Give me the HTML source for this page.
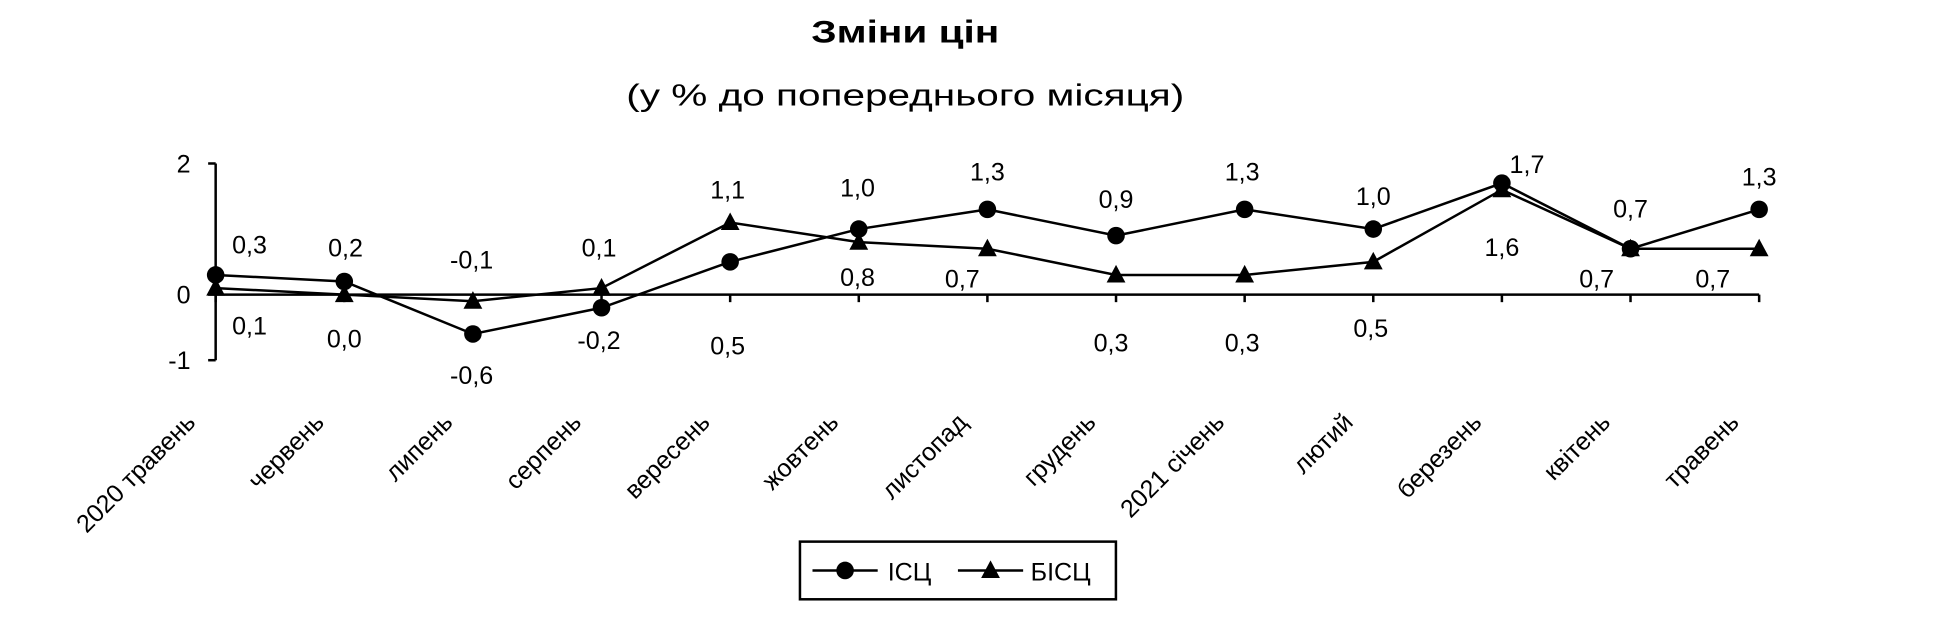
<!DOCTYPE html>
<html><head><meta charset="utf-8"><style>
html,body{margin:0;padding:0;background:#fff;}
svg{display:block;font-family:"Liberation Sans",Arial,sans-serif;}
</style></head><body>
<svg id="chart" width="1956" height="626" viewBox="0 0 1560 499.3" preserveAspectRatio="none" xmlns="http://www.w3.org/2000/svg">
<text x="722" y="34" text-anchor="middle" font-size="25" font-weight="bold" textLength="150" lengthAdjust="spacingAndGlyphs">Зміни цін</text>
<text x="722" y="84" text-anchor="middle" font-size="24" textLength="445" lengthAdjust="spacingAndGlyphs">(у % до попереднього місяця)</text>
<g id="axes"></g>
<g id="series"></g>
<g>
<rect x="638" y="432" width="252" height="46" fill="#fff" stroke="#000" stroke-width="2"/>
<g>
<line x1="648" y1="455" x2="700" y2="455" stroke="#000" stroke-width="2"/>
<circle cx="674" cy="455" r="7" fill="#000"/>
<text x="708" y="463" font-size="20">ІСЦ</text></g>
<g>
<line x1="764" y1="455" x2="816" y2="455" stroke="#000" stroke-width="2"/>
<path d="M790,447 L797.5,461 L782.5,461 Z" fill="#000"/>
<text x="822" y="463" font-size="20">БІСЦ</text></g>
</g>
</svg>
<script>
const categories = ["2020 травень","червень","липень","серпень","вересень","жовтень","листопад","грудень","2021 січень","лютий","березень","квітень","травень"];
const icsc = [0.3,0.2,-0.6,-0.2,0.5,1.0,1.3,0.9,1.3,1.0,1.7,0.7,1.3];
const bicsc = [0.1,0.0,-0.1,0.1,1.1,0.8,0.7,0.3,0.3,0.5,1.6,0.7,0.7];
const yTicks = [2,0,-1];
// label offsets (style only)
const icscDx = [27,1,-1,-2,-2,-1,0,0,-2,0,20,0,0];
const icscDy = [-24,-27,33,26,67,-33,-30,-29,-30,-26,-15,-32,-26];
const bicscDx = [27,0,-1,-2,-2,-1,-20,-4,-2,-2,0,-27,-37];
const bicscDy = [30,35,-33,-32,-26,28,24,54,54,53,46,24,24];

const NS="http://www.w3.org/2000/svg";
const x0=172, x1=1403, yZero=235, unit=52.3;
const xs=i=>x0+i*(x1-x0)/(categories.length-1);
const ys=v=>yZero-v*unit;
const fmt=v=>v.toFixed(1).replace('.',',');
function mk(tag,attrs,parent){const e=document.createElementNS(NS,tag);for(const k in attrs)e.setAttribute(k,attrs[k]);parent.appendChild(e);return e;}
const axes=document.getElementById('axes'), series=document.getElementById('series');

let e=mk('line',{x1:x0,y1:ys(yTicks[0]),x2:x0,y2:ys(yTicks[yTicks.length-1]),stroke:'#000','stroke-width':2},axes);


yTicks.forEach(t=>{
  const l=mk('line',{x1:x0-6,y1:ys(t),x2:x0,y2:ys(t),stroke:'#000','stroke-width':2},axes);
  
  
  const tx=mk('text',{x:x0-20,y:ys(t)+7,'text-anchor':'end','font-size':20},axes);
  
  
  tx.textContent=String(t);
});
e=mk('line',{x1:x0,y1:yZero,x2:x1,y2:yZero,stroke:'#000','stroke-width':2},axes);


categories.forEach((c,i)=>{
  const l=mk('line',{x1:xs(i),y1:yZero,x2:xs(i),y2:yZero+6,stroke:'#000','stroke-width':2},axes);
  
  
  const X=xs(i)-15, Y=338;
  const t=mk('text',{x:X,y:Y,'text-anchor':'end','font-size':20,transform:`rotate(-45 ${X} ${Y})`},axes);
  
  
  t.textContent=c;
});

function drawSeries(vals,name,marker,dx,dy){
  const g=mk('g',{},series);
  
  
  const p=mk('polyline',{points:vals.map((v,i)=>xs(i)+','+ys(v)).join(' '),fill:'none',stroke:'#000','stroke-width':2},g);
  
  
  vals.forEach((v,i)=>{
    const x=xs(i),y=ys(v);
    let m;
    if(marker==='circle') m=mk('circle',{cx:x,cy:y,r:7,fill:'#000'},g);
    else m=mk('path',{d:`M${x},${y-8} L${x+7.5},${y+6} L${x-7.5},${y+6} Z`,fill:'#000'},g);
    
    
    const t=mk('text',{x:x+dx[i],y:y+dy[i]+7,'text-anchor':'middle','font-size':20},g);
    
    
    t.textContent=fmt(v);
  });
}
drawSeries(bicsc,'bicsc','triangle',bicscDx,bicscDy);
drawSeries(icsc,'icsc','circle',icscDx,icscDy);
</script>
</body></html>
